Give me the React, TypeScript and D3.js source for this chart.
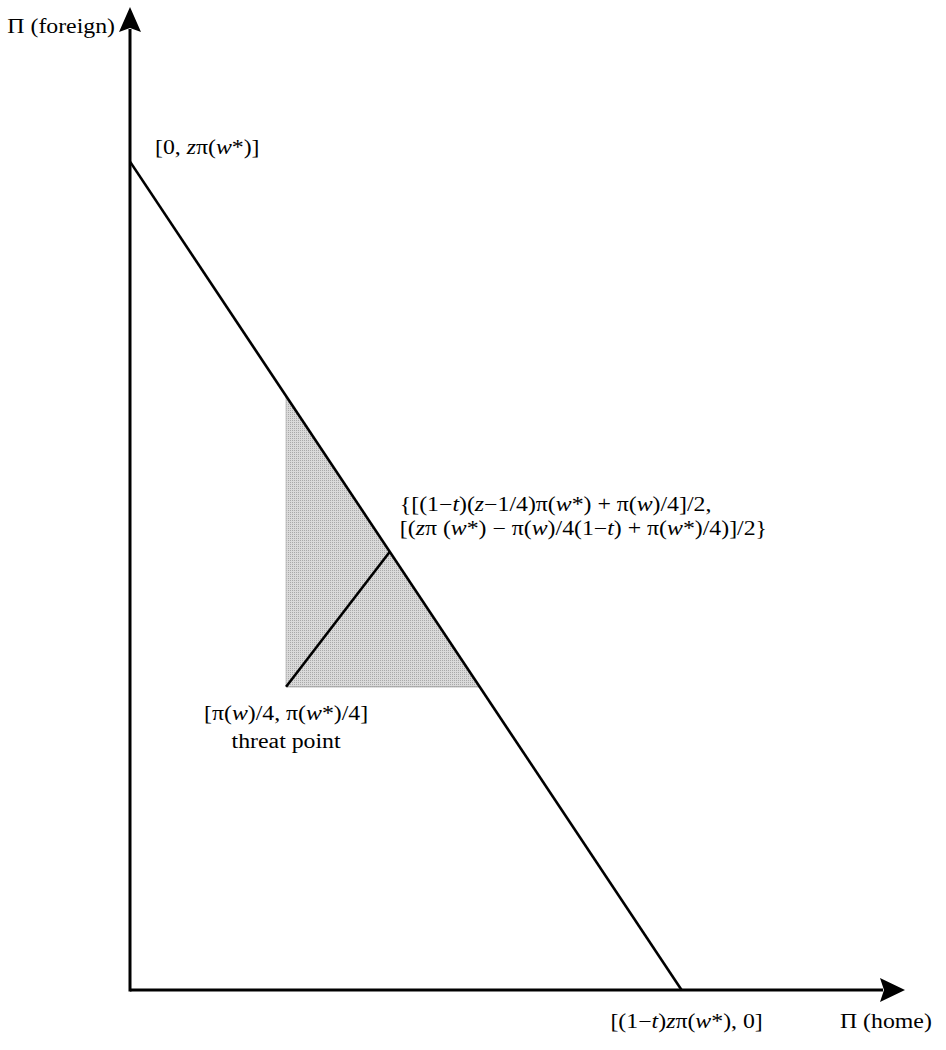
import React from "react";
import * as d3 from "d3";

// ---- data (model units) ----
const axisExtent = { home: 14.05, foreign: 17.8 };
const frontierIntercepts = { home: 10, foreign: 15 };
const threatPoint = { home: 2.83, foreign: 5.49 };
const nashHome = 4.71;

type Seg = [string, boolean];
const labelFrontierTop: Seg[] = [["[0, ", false], ["z", true], ["π(", false], ["w", true], ["*)]", false]];
const labelNashLine1: Seg[] = [
  ["{[(1−", false], ["t", true], [")(", false], ["z", true], ["−1/4)π(", false], ["w", true],
  ["*) + π(", false], ["w", true], [")/4]/2,", false],
];
const labelNashLine2: Seg[] = [
  ["[(", false], ["z", true], ["π (", false], ["w", true], ["*) − π(", false], ["w", true],
  [")/4(1−", false], ["t", true], [") + π(", false], ["w", true], ["*)/4)]/2}", false],
];
const labelThreat1: Seg[] = [["[π(", false], ["w", true], [")/4, π(", false], ["w", true], ["*)/4]", false]];
const labelThreat2: Seg[] = [["threat point", false]];
const labelFrontierBottom: Seg[] = [["[(1−", false], ["t", true], [")", false], ["z", true], ["π(", false], ["w", true], ["*), 0]", false]];
const axisTitleY: Seg[] = [["Π (foreign)", false]];
const axisTitleX: Seg[] = [["Π (home)", false]];

const W = 946;
const H = 1050;
const FONT = "'Liberation Serif', 'Times New Roman', serif";
const FS = 20;
const SX = 1.19;

function Label({ segs, x, y, anchor = "start" }: { segs: Seg[]; x: number; y: number; anchor?: string }) {
  return (
    <g transform={`translate(${x},${y}) scale(${SX},1)`}>
      <text x={0} y={0} textAnchor={anchor} fontFamily={FONT} fontSize={FS} fill="#000">
        {segs.map((s, i) => (
          <tspan key={i} fontStyle={s[1] ? "italic" : "normal"}>{s[0]}</tspan>
        ))}
      </text>
    </g>
  );
}

export default function App() {
  const x = d3.scaleLinear().domain([0, axisExtent.home]).range([130, 905]);
  const y = d3.scaleLinear().domain([0, axisExtent.foreign]).range([990, 7]);

  const slope = frontierIntercepts.foreign / frontierIntercepts.home;
  const frontierY = (h: number) => frontierIntercepts.foreign - slope * h;
  const frontierX = (f: number) => (frontierIntercepts.foreign - f) / slope;

  const line = d3.line<[number, number]>().x((d) => x(d[0])).y((d) => y(d[1]));

  const frontier: [number, number][] = [[0, frontierIntercepts.foreign], [frontierIntercepts.home, 0]];
  const triangle: [number, number][] = [
    [threatPoint.home, threatPoint.foreign],
    [threatPoint.home, frontierY(threatPoint.home)],
    [frontierX(threatPoint.foreign), threatPoint.foreign],
  ];
  const nash: [number, number] = [nashHome, frontierY(nashHome)];
  const diag: [number, number][] = [[threatPoint.home, threatPoint.foreign], nash];

  const ox = x(0), oy = y(0);
  const xEnd = x(axisExtent.home), yEnd = y(axisExtent.foreign);
  const arrowX = `M${xEnd},${oy} L${xEnd - 25},${oy - 12} L${xEnd - 21},${oy} L${xEnd - 25},${oy + 12} Z`;
  const arrowY = `M${ox},${yEnd} L${ox - 11},${yEnd + 25} L${ox},${yEnd + 21} L${ox + 11},${yEnd + 25} Z`;

  return (
    <svg width={W} height={H} style={{ position: "absolute", left: 0, top: 0, background: "#fff" }}>
      <defs>
        <pattern id="stip" width="2" height="2" patternUnits="userSpaceOnUse">
          <rect width="2" height="2" fill="#dadada" />
          <rect width="1" height="1" fill="#a9a9a9" />
        </pattern>
      </defs>
      <path d={line(triangle) + "Z"} fill="url(#stip)" stroke="none" />
      <path d={line([triangle[0], triangle[2]])!} stroke="#999" strokeWidth={1} />
      <path d={line([triangle[0], triangle[1]])!} stroke="#bbb" strokeWidth={1} />
      {/* axes */}
      <line x1={ox} y1={oy} x2={xEnd - 22} y2={oy} stroke="#000" strokeWidth={3} />
      <line x1={ox} y1={oy + 1.5} x2={ox} y2={yEnd + 22} stroke="#000" strokeWidth={3} />
      <path d={arrowX} fill="#000" />
      <path d={arrowY} fill="#000" />
      {/* frontier and bargaining line */}
      <path d={line(frontier)!} stroke="#000" strokeWidth={2.6} fill="none" />
      <path d={line(diag)!} stroke="#000" strokeWidth={2.6} fill="none" />
      {/* labels */}
      <Label segs={axisTitleY} x={ox - 15} y={yEnd + 26} anchor="end" />
      <Label segs={axisTitleX} x={840} y={oy + 38} />
      <Label segs={labelFrontierTop} x={ox + 25} y={y(frontierIntercepts.foreign) - 8} />
      <Label segs={labelNashLine1} x={x(nash[0]) + 10} y={y(nash[1]) - 41} />
      <Label segs={labelNashLine2} x={x(nash[0]) + 10} y={y(nash[1]) - 17} />
      <Label segs={labelThreat1} x={x(threatPoint.home)} y={y(threatPoint.foreign) + 33} anchor="middle" />
      <Label segs={labelThreat2} x={x(threatPoint.home)} y={y(threatPoint.foreign) + 61} anchor="middle" />
      <Label segs={labelFrontierBottom} x={x(frontierIntercepts.home) + 5} y={oy + 38} anchor="middle" />
    </svg>
  );
}
